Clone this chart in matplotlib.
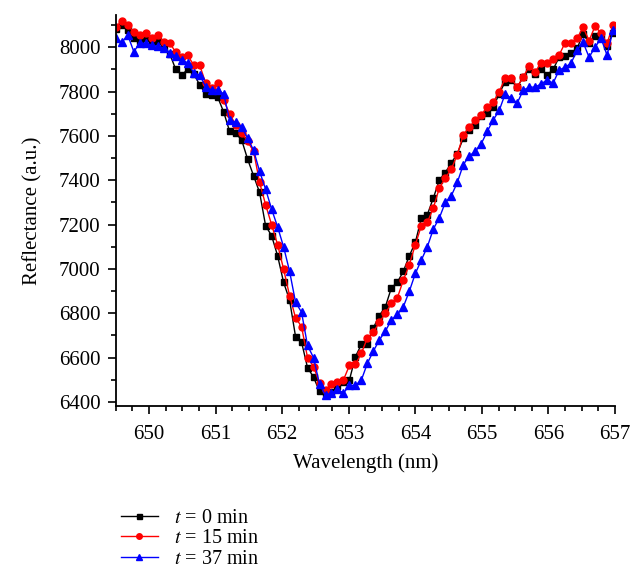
import matplotlib
matplotlib.use("Agg")
import matplotlib.pyplot as plt
from matplotlib.ticker import MultipleLocator
from matplotlib.patches import Rectangle

plt.rcParams['font.family'] = ['Liberation Serif', 'DejaVu Serif']
plt.rcParams['mathtext.fontset'] = 'stix'

wavelength = [
    649.50, 649.59, 649.68, 649.77, 649.86, 649.95, 650.04, 650.13, 650.22, 650.31,
    650.40, 650.49, 650.58, 650.67, 650.76, 650.85, 650.94, 651.03, 651.12, 651.21,
    651.30, 651.39, 651.48, 651.57, 651.66, 651.75, 651.84, 651.93, 652.02, 652.11,
    652.20, 652.29, 652.38, 652.47, 652.56, 652.65, 652.74, 652.83, 652.92, 653.01,
    653.10, 653.19, 653.28, 653.37, 653.46, 653.55, 653.64, 653.73, 653.82, 653.91,
    654.00, 654.09, 654.18, 654.27, 654.36, 654.45, 654.54, 654.63, 654.72, 654.81,
    654.90, 654.99, 655.08, 655.17, 655.26, 655.35, 655.44, 655.53, 655.62, 655.71,
    655.80, 655.89, 655.98, 656.07, 656.16, 656.25, 656.34, 656.43, 656.52, 656.61,
    656.70, 656.79, 656.88, 656.97,
]

r_0min = [
    8080, 8100, 8076, 8040, 8030, 8040, 8025, 8030, 8000, 7970,
    7900, 7875, 7900, 7880, 7830, 7790, 7784, 7775, 7708, 7620,
    7612, 7582, 7495, 7420, 7345, 7195, 7150, 7060, 6940, 6860,
    6695, 6670, 6555, 6512, 6448, 6440, 6445, 6470, 6490, 6500,
    6605, 6660, 6662, 6735, 6790, 6830, 6915, 6940, 6990, 7060,
    7120, 7230, 7245, 7320, 7400, 7435, 7478, 7520, 7590, 7625,
    7650, 7690, 7705, 7730, 7790, 7845, 7850, 7820, 7865, 7900,
    7880, 7900, 7875, 7900, 7955, 7960, 7975, 7995, 8060, 8020,
    8050, 8045, 8005, 8065,
]

r_15min = [
    8090, 8120, 8100, 8067, 8054, 8063, 8040, 8054, 8025, 8018,
    7978, 7955, 7964, 7919, 7919, 7838, 7816, 7838, 7760, 7700,
    7650, 7615, 7575, 7530, 7390, 7290, 7200, 7110, 7000, 6880,
    6780, 6740, 6600, 6560, 6485, 6455, 6480, 6492, 6500, 6565,
    6570, 6620, 6690, 6715, 6760, 6800, 6845, 6870, 6950, 7020,
    7110, 7195, 7210, 7275, 7365, 7410, 7450, 7515, 7605, 7640,
    7670, 7695, 7730, 7752, 7800, 7860, 7860, 7820, 7865, 7915,
    7888, 7930, 7928, 7945, 7965, 8020, 8018, 8040, 8090, 8030,
    8095, 8063, 8018, 8100,
]

r_37min = [
    8040, 8022, 8054, 7980, 8018, 8018, 8009, 8005, 7996, 7975,
    7960, 7942, 7930, 7885, 7874, 7822, 7807, 7807, 7790, 7670,
    7663, 7640, 7590, 7535, 7440, 7360, 7270, 7190, 7100, 6990,
    6850, 6805, 6655, 6600, 6480, 6430, 6440, 6458, 6440, 6475,
    6475, 6500, 6575, 6630, 6680, 6720, 6770, 6795, 6830, 6900,
    6980, 7040, 7100, 7180, 7230, 7300, 7330, 7390, 7470, 7510,
    7530, 7565, 7620, 7672, 7715, 7790, 7770, 7748, 7806, 7820,
    7820, 7835, 7852, 7838, 7897, 7910, 7928, 7987, 8022, 7955,
    8000, 8040, 7964, 8076,
]

fig = plt.figure(figsize=(6.4, 5.8), dpi=100)
ax = fig.add_axes([0.181, 0.300, 0.780, 0.674])

ax.plot(wavelength, r_0min, '-s', color='black', lw=1, ms=4.5, label=r'$t$ = 0 min')
ax.plot(wavelength, r_15min, '-o', color='#ff0000', lw=1, ms=5, label=r'$t$ = 15 min')
ax.plot(wavelength, r_37min, '-^', color='#0000ff', lw=1, ms=5.5, label=r'$t$ = 37 min')

ax.set_xlim(649.5, 657)
ax.set_ylim(6382, 8145)
ax.xaxis.set_major_locator(MultipleLocator(1))
ax.xaxis.set_minor_locator(MultipleLocator(0.25))
ax.yaxis.set_major_locator(MultipleLocator(200))
ax.yaxis.set_minor_locator(MultipleLocator(100))
ax.tick_params(which='major', direction='out', length=6, width=1.2, labelsize=15)
ax.tick_params(axis='x', which='major', pad=8)
ax.tick_params(axis='y', which='major', pad=5)
ax.tick_params(which='minor', direction='out', length=3.5, width=1.2)
for s in ['top', 'right']:
    ax.spines[s].set_visible(False)
for s in ['left', 'bottom']:
    ax.spines[s].set_linewidth(1.3)

ax.set_xlabel('Wavelength (nm)', fontsize=15, labelpad=6)
ax.set_ylabel('Reflectance (a.u.)', fontsize=15, labelpad=12)

fig.legend(loc='upper left', bbox_to_anchor=(0.177, 0.137), frameon=False,
           fontsize=14.5, handlelength=1.8, handletextpad=0.8, labelspacing=0.08,
           borderaxespad=0, markerscale=0.8)

# bottom strip of the original is blank, cutting the last legend entry
fig.patches.append(Rectangle((0, 0), 1, 15 / 580, transform=fig.transFigure,
                             color='white', zorder=10))

fig.savefig('out.png', dpi=100)
